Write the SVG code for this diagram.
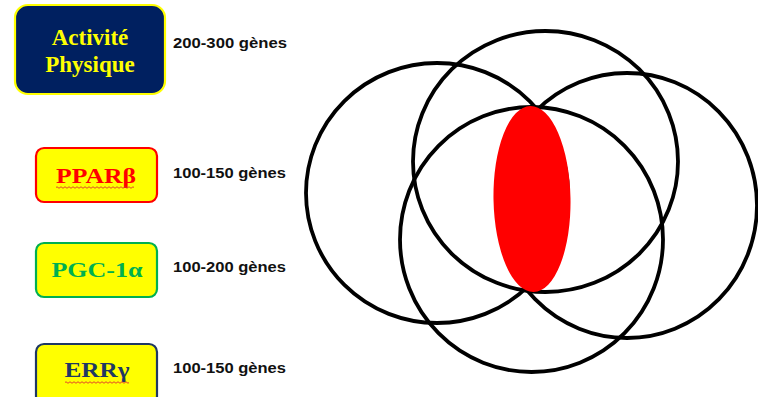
<svg xmlns="http://www.w3.org/2000/svg" width="758" height="397" viewBox="0 0 758 397">
<style>
.box{stroke-width:2.2}
.lbl{font-family:"Liberation Serif","Times New Roman",serif;font-weight:bold;text-anchor:middle}
.cnt{font-family:"Liberation Sans",Arial,sans-serif;font-weight:bold;font-size:15.5px;fill:#111}
.c{fill:none;stroke:#000;stroke-width:3.8}
.sq{fill:none;stroke:#e03030;stroke-width:0.9}
</style>
<rect width="758" height="397" fill="#fff"/>
<g id="activite">
<rect class="box" x="15" y="5" width="150" height="89" rx="13" fill="#002060" stroke="#ffff00"/>
<text class="lbl" x="90" y="45" font-size="23" fill="#ffff00">Activité</text>
<text class="lbl" x="90" y="72" font-size="23" fill="#ffff00">Physique</text>
<text class="cnt" x="173" y="48" textLength="114" lengthAdjust="spacingAndGlyphs">200-300  gènes</text>
</g>
<g id="ppar">
<rect class="box" x="36" y="148" width="121" height="54" rx="8" fill="#ffff00" stroke="#ff0000"/>
<text class="lbl" x="96" y="183" font-size="22" fill="#ff0000" textLength="80" lengthAdjust="spacingAndGlyphs">PPARβ</text>
<path class="sq" d="M56 187.5 q1 -1.5 2 0 t2 0 t2 0 t2 0 t2 0 t2 0 t2 0 t2 0 t2 0 t2 0 t2 0 t2 0 t2 0 t2 0 t2 0 t2 0 t2 0 t2 0 t2 0 t2 0 t2 0 t2 0 t2 0 t2 0 t2 0 t2 0 t2 0 t2 0 t2 0 t2 0 t2 0 t2 0 t2 0 t2 0 t2 0 t2 0 t2 0 t2 0 t2 0"/>
<text class="cnt" x="173" y="178" textLength="113" lengthAdjust="spacingAndGlyphs">100-150  gènes</text>
</g>
<g id="pgc">
<rect class="box" x="36" y="243" width="121" height="54" rx="8" fill="#ffff00" stroke="#00b050"/>
<text class="lbl" x="97" y="277" font-size="22" fill="#00b050" textLength="91" lengthAdjust="spacingAndGlyphs">PGC-1α</text>
<text class="cnt" x="173" y="272" textLength="113" lengthAdjust="spacingAndGlyphs">100-200  gènes</text>
</g>
<g id="err">
<rect class="box" x="36" y="344" width="121" height="60" rx="8" fill="#ffff00" stroke="#1f3864"/>
<text class="lbl" x="97" y="377" font-size="22" fill="#1f3864" textLength="65" lengthAdjust="spacingAndGlyphs">ERRγ</text>
<path class="sq" d="M65 382.5 q1 -1.5 2 0 t2 0 t2 0 t2 0 t2 0 t2 0 t2 0 t2 0 t2 0 t2 0 t2 0 t2 0 t2 0 t2 0 t2 0 t2 0 t2 0 t2 0 t2 0 t2 0 t2 0 t2 0 t2 0 t2 0 t2 0 t2 0 t2 0 t2 0 t2 0 t2 0 t2 0 t2 0"/>
<text class="cnt" x="173" y="373" textLength="113" lengthAdjust="spacingAndGlyphs">100-150  gènes</text>
</g>
<g id="venn">
<ellipse class="c" cx="437" cy="193" rx="131" ry="130"/>
<ellipse class="c" cx="545.5" cy="161.5" rx="132.5" ry="130.5"/>
<ellipse class="c" cx="627" cy="205.5" rx="130" ry="132.5"/>
<ellipse class="c" cx="531.5" cy="239.5" rx="131.5" ry="132.5"/>
<ellipse cx="532" cy="199" rx="38.5" ry="93" fill="#ff0000" transform="rotate(-1 532 199)"/>
</g>
</svg>
